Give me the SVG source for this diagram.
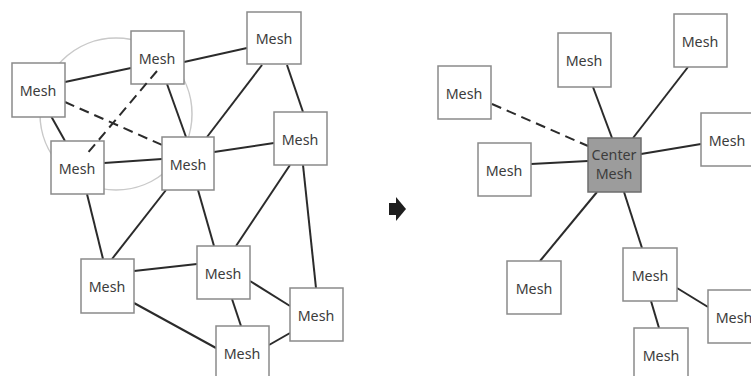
<svg xmlns="http://www.w3.org/2000/svg" width="751" height="376" viewBox="0 0 751 376">
  <style>
    .box { fill: #ffffff; stroke: #8a8a8a; stroke-width: 1.5; }
    .center { fill: #9c9c9c; stroke: #6e6e6e; stroke-width: 1.5; }
    .lbl { font-family: "Noto Sans", "Open Sans", sans-serif; font-size: 14.3px; fill: #3c3c3c; text-anchor: middle; }
    .link { stroke: #2b2b2b; stroke-width: 2; fill: none; stroke-linecap: butt; }
    .dash { stroke-dasharray: 10 6; }
    .ring { fill: none; stroke: #c9c9c9; stroke-width: 1.5; }
  </style>
  <rect width="751" height="376" fill="#ffffff"/>

  <!-- left: meshed network -->
  <circle class="ring" cx="116" cy="114" r="76"/>

  <g id="connectors">
    <!-- left network links -->
    <line class="link" x1="65" y1="82" x2="131" y2="68"/>
    <line class="link dash" x1="65" y1="102" x2="162" y2="145"/>
    <line class="link" x1="51" y1="116" x2="65" y2="141"/>
    <line class="link" x1="167" y1="84" x2="186" y2="137"/>
    <line class="link" x1="184" y1="62" x2="247" y2="48"/>
    <line class="link" x1="104" y1="163" x2="162" y2="159"/>
    <line class="link" x1="262" y1="65" x2="207" y2="137"/>
    <line class="link" x1="287" y1="65" x2="303" y2="112"/>
    <line class="link" x1="214" y1="152" x2="274" y2="143"/>
    <line class="link" x1="290" y1="165" x2="236" y2="246"/>
    <line class="link" x1="303" y1="165" x2="316" y2="288"/>
    <line class="link" x1="166" y1="190" x2="112" y2="259"/>
    <line class="link" x1="87" y1="194" x2="103" y2="259"/>
    <line class="link" x1="198" y1="190" x2="214" y2="246"/>
    <line class="link" x1="134" y1="271" x2="197" y2="264"/>
    <line class="link" x1="134" y1="303" x2="216" y2="348"/>
    <line class="link" x1="232" y1="299" x2="241" y2="326"/>
    <line class="link" x1="250" y1="281" x2="290" y2="306"/>
    <line class="link" x1="290" y1="333" x2="269" y2="345"/>

    <!-- right star links -->
    <line class="link dash" x1="492" y1="104" x2="588" y2="146"/>
    <line class="link" x1="593" y1="87" x2="612" y2="138"/>
    <line class="link" x1="688" y1="67" x2="633" y2="138"/>
    <line class="link" x1="701" y1="144" x2="641" y2="154"/>
    <line class="link" x1="531" y1="164" x2="588" y2="161"/>
    <line class="link" x1="597" y1="192" x2="540" y2="261"/>
    <line class="link" x1="624" y1="192" x2="642" y2="248"/>
    <line class="link" x1="677" y1="288" x2="708" y2="307"/>
    <line class="link" x1="651" y1="301" x2="659" y2="328"/>
  </g>

  <!-- left nodes -->
  <g id="mesh-a"><rect class="box" x="12" y="63" width="53" height="54"/><text class="lbl" x="38" y="96">Mesh</text></g>
  <g id="mesh-b"><rect class="box" x="131" y="31" width="53" height="53"/><text class="lbl" x="157" y="64">Mesh</text></g>
  <g id="mesh-c"><rect class="box" x="51" y="141" width="53" height="53"/><text class="lbl" x="77" y="174">Mesh</text></g>
  <g id="mesh-d"><rect class="box" x="162" y="137" width="52" height="53"/><text class="lbl" x="188" y="170">Mesh</text></g>
  <g id="mesh-e"><rect class="box" x="247" y="12" width="54" height="52"/><text class="lbl" x="274" y="44">Mesh</text></g>
  <g id="mesh-f"><rect class="box" x="274" y="112" width="53" height="53"/><text class="lbl" x="300" y="145">Mesh</text></g>
  <g id="mesh-g"><rect class="box" x="81" y="259" width="53" height="54"/><text class="lbl" x="107" y="292">Mesh</text></g>
  <g id="mesh-h"><rect class="box" x="197" y="246" width="53" height="53"/><text class="lbl" x="223" y="279">Mesh</text></g>
  <g id="mesh-i"><rect class="box" x="290" y="288" width="53" height="53"/><text class="lbl" x="316" y="321">Mesh</text></g>
  <g id="mesh-j"><rect class="box" x="216" y="326" width="53" height="53"/><text class="lbl" x="242" y="359">Mesh</text></g>

  <!-- dashed link drawn across node faces -->
  <line class="link dash" x1="157" y1="71" x2="86" y2="155"/>

  <!-- transition arrow -->
  <g id="arrow">
    <rect x="389" y="203" width="8" height="12" fill="#1e1e1e"/>
    <polygon points="396,197 406,209 396,221" fill="#1e1e1e"/>
  </g>

  <!-- right: star around the center mesh -->
  <g id="mesh-r1"><rect class="box" x="438" y="66" width="53" height="53"/><text class="lbl" x="464" y="99">Mesh</text></g>
  <g id="mesh-r2"><rect class="box" x="558" y="33" width="53" height="54"/><text class="lbl" x="584" y="66">Mesh</text></g>
  <g id="mesh-r3"><rect class="box" x="674" y="14" width="53" height="53"/><text class="lbl" x="700" y="47">Mesh</text></g>
  <g id="mesh-r4"><rect class="box" x="701" y="113" width="53" height="53"/><text class="lbl" x="727" y="146">Mesh</text></g>
  <g id="mesh-r5"><rect class="box" x="478" y="143" width="53" height="53"/><text class="lbl" x="504" y="176">Mesh</text></g>
  <g id="center-mesh"><rect class="center" x="588" y="138" width="53" height="54"/><text class="lbl" x="614" y="160">Center</text><text class="lbl" x="614" y="179">Mesh</text></g>
  <g id="mesh-r6"><rect class="box" x="507" y="261" width="54" height="53"/><text class="lbl" x="534" y="294">Mesh</text></g>
  <g id="mesh-r7"><rect class="box" x="623" y="248" width="54" height="53"/><text class="lbl" x="650" y="281">Mesh</text></g>
  <g id="mesh-r8"><rect class="box" x="708" y="290" width="53" height="53"/><text class="lbl" x="734" y="323">Mesh</text></g>
  <g id="mesh-r9"><rect class="box" x="634" y="328" width="54" height="53"/><text class="lbl" x="661" y="361">Mesh</text></g>
</svg>
